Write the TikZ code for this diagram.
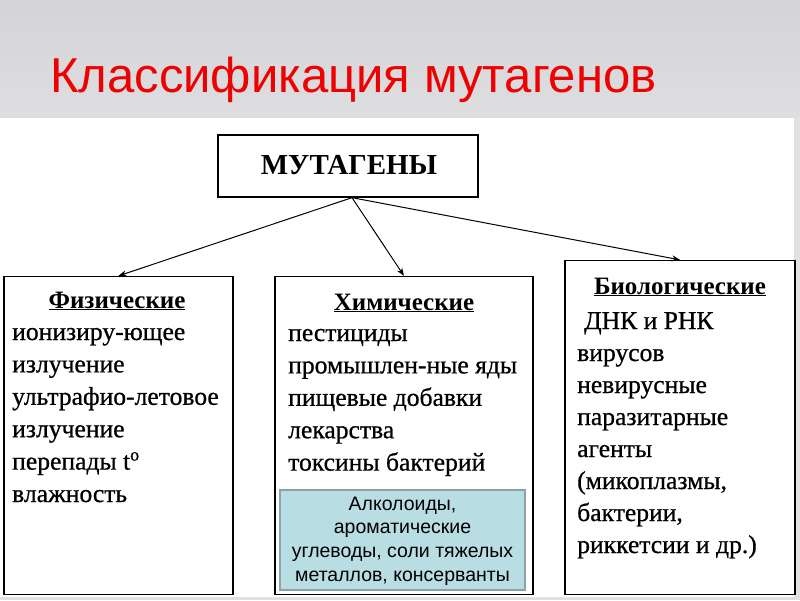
\documentclass[tikz,border=0pt]{standalone}
\usepackage{fontspec}
\setmainfont{Liberation Serif}
\newfontfamily\sansf{Liberation Sans}
\newfontfamily\bodyf[FakeBold=0.7]{Liberation Serif}
\usetikzlibrary{arrows.meta}
\definecolor{titlered}{RGB}{238,0,0}
\definecolor{bandtop}{RGB}{212,212,214}
\definecolor{bandbot}{RGB}{222,222,224}
\definecolor{tealfill}{RGB}{184,222,227}
\definecolor{tealline}{RGB}{140,162,166}
\definecolor{edgegray}{RGB}{225,225,227}
\tikzset{
  box/.style={draw=black, line width=1.3pt, inner sep=0pt},
  conn/.style={draw=black, line width=1pt, -{Stealth[length=8pt,width=6pt]}},
  bodytxt/.style={anchor=base west, inner sep=0pt,
    font=\bodyf\fontsize{25.6}{30}\selectfont},
  headtxt/.style={anchor=base, inner sep=0pt, font=\fontsize{25}{30}\selectfont\bfseries},
  alktxt/.style={anchor=base, inner sep=0pt, font=\sansf\fontsize{19.5}{22}\selectfont},
}
\newcommand{\ul}[1]{\underline{#1}}
\begin{document}
\begin{tikzpicture}[x=1pt,y=-1pt]
\useasboundingbox (0,0) rectangle (800,600);
\fill[white] (0,0) rectangle (800,600);
\shade[top color=bandtop, bottom color=bandbot] (0,0) rectangle (800,117);
\fill[edgegray] (794,117) rectangle (800,600);
\fill[edgegray] (0,597) rectangle (800,600);

\node[anchor=base west, inner sep=0pt, text=titlered,
  font=\sansf\fontsize{49}{55}\selectfont] (title) at (50,92) {Классификация мутагенов};

% top box
\node[box, minimum width=260pt, minimum height=62pt] (mut) at (348,166) {};
\node[anchor=base, inner sep=0pt, font=\fontsize{29}{32}\selectfont\bfseries] (mutt) at (349,174) {МУТАГЕНЫ};

% lower boxes
\node[box, minimum width=229pt, minimum height=318pt] (phys) at (118.5,435.5) {};
\node[box, minimum width=258pt, minimum height=318pt] (chem) at (404,435.5) {};
\node[box, minimum width=230pt, minimum height=334pt] (bio) at (680,427.5) {};

% arrows
\coordinate (mutS) at ([xshift=4pt]mut.south);
\draw[conn] (mutS) -- (phys.north);
\draw[conn] (mutS) -- (chem.north);
\draw[conn] (mutS) -- (bio.north);

% physical
\node[headtxt] (physh) at (117,308) {\ul{Физические}};
\foreach \t [count=\i from 0] in {ионизиру-ющее,излучение,ультрафио-летовое,излучение,{перепады t\textsuperscript{o}},влажность}
  \node[bodytxt] (phys\i) at (12,{340+32.4*\i}) {\t};

% chemical
\node[headtxt] (chemh) at (404,310) {\ul{Химические}};
\foreach \t [count=\i from 0] in {пестициды,промышлен-ные яды,пищевые добавки,лекарства,токсины бактерий}
  \node[bodytxt] (chem\i) at (288,{341+32.4*\i}) {\t};

% teal box
\node[draw=tealline, fill=tealfill, line width=1.2pt, minimum width=245pt, minimum height=100pt, inner sep=0pt] (alk) at (402.5,540) {};
\foreach \t [count=\i from 0] in {{Алколоиды,},ароматические,{углеводы, соли тяжелых},{металлов, консерванты}}
  \node[alktxt] (alk\i) at (402.5,{510+23.8*\i}) {\t};

% biological
\node[headtxt] (bioh) at (680,294) {\ul{Биологические}};
\foreach \t [count=\i from 0] in {{\hspace*{7pt}ДНК и РНК},вирусов,невирусные,паразитарные,агенты,{(микоплазмы,},{бактерии,},риккетсии и др.)}
  \node[bodytxt] (bio\i) at (577,{329+32*\i}) {\t};
\end{tikzpicture}
\end{document}
